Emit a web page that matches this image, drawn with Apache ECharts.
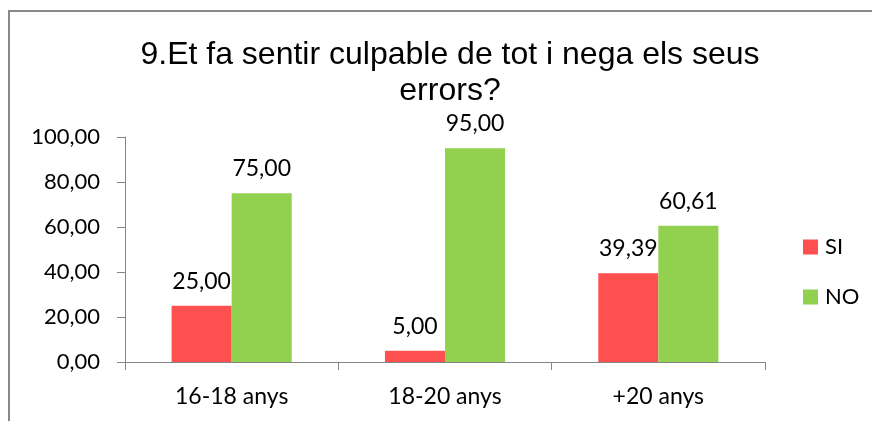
<!DOCTYPE html>
<html>
<head>
<meta charset="utf-8">
<script src="https://cdn.jsdelivr.net/npm/echarts@6/dist/echarts.min.js"></script>
<style>
  html, body { margin: 0; padding: 0; background: #fff; }
  #chart { width: 872px; height: 421px; }
</style>
</head>
<body>
<div id="chart"></div>
<script>
  // dades llegides del gràfic
  const categories = ['16-18 anys', '18-20 anys', '+20 anys'];
  const siValues = [25.00, 5.00, 39.39];
  const noValues = [75.00, 95.00, 60.61];
  const titleLines = ['9.Et fa sentir culpable de tot i nega els seus', 'errors?'];

  const fmt = v => Number(v).toFixed(2).replace('.', ',');
  const labelFont = 'Lato, "Open Sans", sans-serif';

  const chart = echarts.init(document.getElementById('chart'));

  const barLabel = {
    show: true,
    position: 'top',
    distance: 13,
    fontFamily: labelFont,
    fontSize: 23,
    color: '#000',
    formatter: p => fmt(p.value)
  };

  const option = {
    animation: false,
    backgroundColor: '#fff',
    title: {
      text: titleLines.join('\n'),
      left: 445,
      top: 32,
      textAlign: 'center',
      textStyle: {
        fontFamily: '"Liberation Sans", Arial, sans-serif',
        fontSize: 32,
        fontWeight: 'normal',
        color: '#000',
        lineHeight: 36
      }
    },
    legend: {
      orient: 'vertical',
      left: 798,
      top: 231,
      itemWidth: 15,
      itemHeight: 15,
      itemGap: 28,
      icon: 'rect',
      textStyle: { fontFamily: labelFont, fontSize: 22, color: '#000', padding: [0, 0, 0, 2] },
      data: ['SI', 'NO']
    },
    grid: {
      left: 125,
      top: 137,
      width: 640,
      height: 225,
      containLabel: false
    },
    xAxis: {
      type: 'category',
      data: categories,
      axisLine: { lineStyle: { color: '#868686', width: 1 } },
      axisTick: { show: true, length: 8, lineStyle: { color: '#868686' } },
      axisLabel: { margin: 23, fontFamily: labelFont, fontSize: 23, color: '#000' }
    },
    yAxis: {
      type: 'value',
      min: 0,
      max: 100,
      interval: 20,
      splitLine: { show: false },
      axisLine: { show: true, lineStyle: { color: '#868686', width: 1 } },
      axisTick: { show: true, length: 8, lineStyle: { color: '#868686' } },
      axisLabel: {
        margin: 25,
        fontFamily: labelFont,
        fontSize: 22,
        color: '#000',
        formatter: fmt
      }
    },
    series: [
      {
        name: 'SI',
        type: 'bar',
        data: siValues,
        barGap: '0%',
        barCategoryGap: '43.7%',
        itemStyle: { color: '#FF5050' },
        label: barLabel
      },
      {
        name: 'NO',
        type: 'bar',
        data: noValues,
        barGap: '0%',
        barCategoryGap: '43.7%',
        itemStyle: { color: '#92D050' },
        label: barLabel
      }
    ],
    graphic: [
      {
        type: 'rect',
        shape: { x: 9, y: 11, width: 900, height: 500 },
        style: { fill: 'none', stroke: '#898989', lineWidth: 2 },
        silent: true
      }
    ]
  };

  chart.setOption(option);
</script>
</body>
</html>
